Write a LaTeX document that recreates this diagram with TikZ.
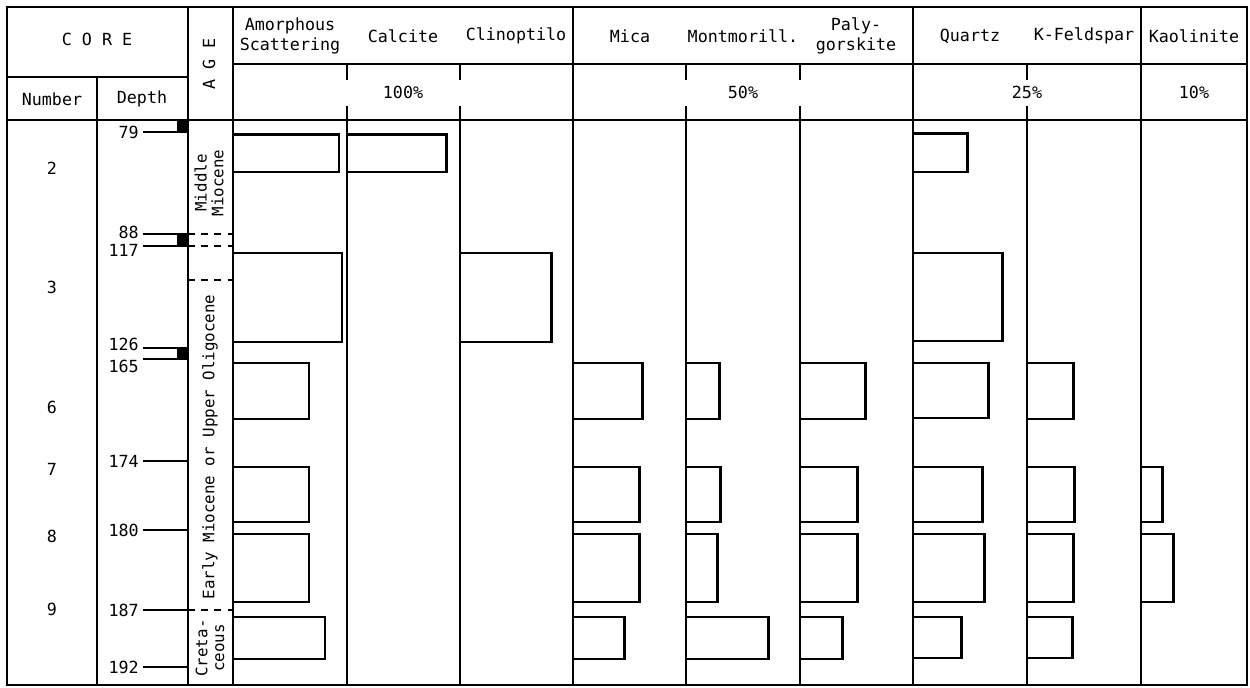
\documentclass[tikz,border=0pt]{standalone}
\usepackage{fontspec}
\setmainfont{DejaVu Sans Mono}
\begin{document}
\begin{tikzpicture}[x=0.02cm,y=-0.02cm,
	grid/.style={line width=1pt},
	bar/.style={line width=1.7pt,line join=miter},
	lbl/.style={font=\fontsize{9.5}{11}\selectfont,inner sep=0pt,align=center},
	agelbl/.style={font=\fontsize{9}{9.5}\selectfont,inner sep=0pt,align=center,rotate=90},
	agedash/.style={line width=1pt,dash pattern=on 4pt off 3.5pt}]
	\useasboundingbox (0,0) rectangle (1250,688);
	% frame and rulings
	\draw[grid] (7,7) rectangle (1247,685);
	\draw[grid] (7,77) -- (188,77);
	\draw[grid] (233,64) -- (1247,64);
	\draw[grid] (7,120) -- (1247,120);
	\draw[grid] (97,77) -- (97,685);
	\draw[grid] (188,7) -- (188,685);
	\foreach \x in {233,573,913,1141}
		\draw[grid] (\x,7) -- (\x,685);
	\foreach \x in {347,460,686,800,1027} {
		\draw[grid] (\x,64) -- (\x,80);
		\draw[grid] (\x,106) -- (\x,685);
	}
	% headings
	\node[lbl] (core) at (97,39) {C O R E};
	\node[lbl] (number) at (52,99) {Number};
	\node[lbl] (depth) at (142,99) {Depth};
	\node[lbl,rotate=90] (age) at (209,64) {A G E};
	\foreach \x/\name/\txt in {290/amorph/Amorphous\\Scattering,403/calc/Calcite,
		516/clino/Clinoptilo,630/mica/Mica,743/mont/Montmorill.,856/paly/Paly-\\gorskite,
		970/quartz/Quartz,1084/kfeld/K-Feldspar,1194/kaol/Kaolinite}
		\node[lbl] (\name) at (\x,36) {\txt};
	\foreach \x/\name/\txt in {403/sc100/100\%,743/sc50/50\%,1027/sc25/25\%,1194/sc10/10\%}
		\node[lbl] (\name) at (\x,92) {\txt};
	% cores
	\foreach \y/\n in {168/2,287/3,407/6,469/7,536/8,609/9}
		\node[lbl] (core\n) at (52,\y) {\n};
	% depths
	\foreach \y/\ly/\d in {132/132/79,234/232/88,246/250/117,348/344/126,359/366/165,
		461/461/174,530/530/180,610/610/187,667/667/192} {
		\node[lbl,anchor=east] (d\d) at (139,\ly) {\d};
		\draw[grid] (143,\y) -- (188,\y);
	}
	\fill (177,120) rectangle (188,132);
	\fill (177,234) rectangle (188,246);
	\fill (177,348) rectangle (188,359);
	% age
	\foreach \y in {234,246,280,610}
		\draw[agedash] (188,\y) -- (233,\y);
	\node[agelbl] (midmio) at (209,183) {Middle\\Miocene};
	\node[agelbl] (earlymio) at (210,447) {Early Miocene or Upper Oligocene};
	\node[agelbl] (creta) at (210,648) {Creta-\\ceous};
	% bars: left/top/bottom/right
	\foreach \l/\t/\b/\r in {233/135/172/339,347/135/172/446,913/134/172/967,
		233/253/342/342,460/253/342/551,913/253/341/1002,
		233/363/419/309,573/363/419/642,686/363/419/719,800/363/419/865,913/363/418/988,1027/363/419/1073,
		233/467/522/309,573/467/522/639,686/467/522/720,800/467/522/857,913/467/522/982,1027/467/522/1074,1141/467/522/1162,
		233/534/602/309,573/534/602/639,686/534/602/717,800/534/602/857,913/534/602/984,1027/534/602/1073,1141/534/602/1173,
		233/617/659/325,573/617/659/624,686/617/659/768,800/617/659/842,913/617/658/961,1027/617/658/1072}
		\draw[bar] (\l,\t) -- (\r,\t) -- (\r,\b) -- (\l,\b);
\end{tikzpicture}
\end{document}
